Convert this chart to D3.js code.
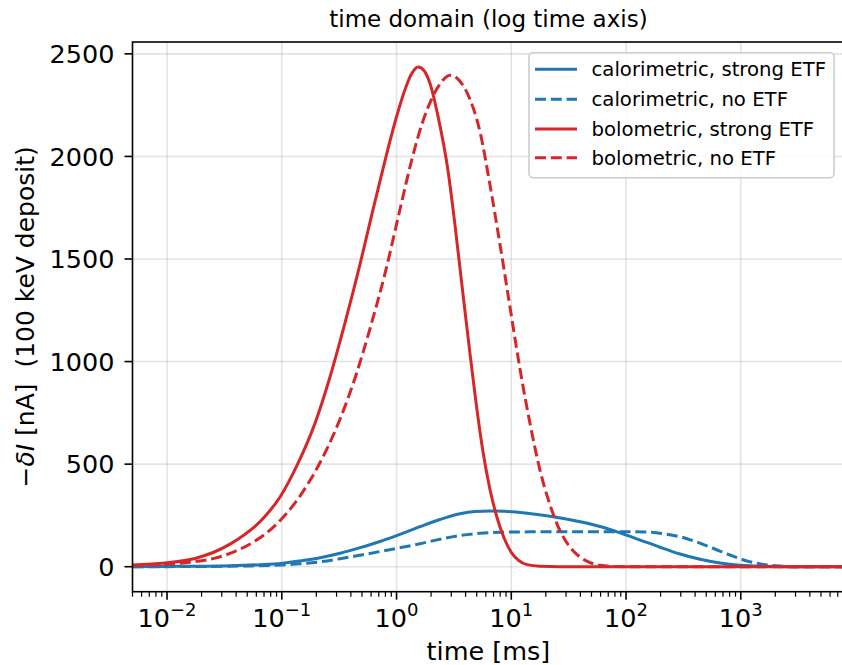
<!DOCTYPE html>
<html>
<head>
<meta charset="utf-8">
<script src="https://cdn.jsdelivr.net/npm/d3@7"></script>
<style>
  body { margin: 0; background: #fff; }
  text { font-family: "DejaVu Sans", sans-serif; fill: #000; }
</style>
</head>
<body>
<script>
// values (time in ms, current in nA)
var calStrongT = [0.005, 0.013, 0.0354, 0.0646, 0.0985, 0.144, 0.216, 0.322, 0.481, 0.718, 1.07, 1.6, 2.39, 3.58, 4.83, 6.53, 8.83, 13.2, 21.8, 36, 59.3, 88.7, 133, 198, 296, 442, 659, 984, 1472, 2685, 8000];
var calStrongI = [0, 2, 5, 10, 16, 28, 44, 66, 93, 123, 158, 195, 230, 258, 269, 272, 270, 262, 246, 224, 196, 165, 130, 95, 62, 36, 18, 7, 2, 0, 0];

var calNoT = [0.005, 0.0194, 0.0529, 0.0985, 0.144, 0.216, 0.322, 0.481, 0.718, 0.99, 1.6, 2.39, 3.58, 5.34, 7.98, 14.6, 39.7, 88.7, 162, 219, 296, 416, 573, 805, 1133, 1563, 2198, 3281, 8000];
var calNoI = [0, 1, 4, 8, 14, 24, 39, 56, 74, 89, 112, 134, 152, 163, 168, 170, 171, 171, 168, 160, 146, 120, 90, 57, 28, 11, 3, 0, 0];

var boloStrongT = [0.005, 0.00961, 0.0175, 0.0354, 0.0687, 0.0966, 0.136, 0.195, 0.263, 0.356, 0.481, 0.611, 0.778, 0.99, 1.21, 1.36, 1.54, 1.74, 1.96, 2.3, 2.81, 3.24, 3.72, 4.28, 4.93, 5.67, 6.53, 7.51, 8.65, 9.95, 11.5, 13.7, 17.8, 26.6, 8000];
var boloStrongI = [8, 18, 40, 110, 235, 340, 495, 700, 925, 1190, 1475, 1720, 1960, 2185, 2340, 2405, 2436, 2418, 2355, 2195, 1930, 1660, 1370, 1080, 800, 560, 375, 240, 140, 72, 32, 10, 2, 0, 0];

var boloNoT = [0.005, 0.00869, 0.0158, 0.0262, 0.0392, 0.0585, 0.0873, 0.13, 0.176, 0.238, 0.322, 0.435, 0.587, 0.794, 1.07, 1.36, 1.67, 2.04, 2.44, 2.93, 3.5, 4.2, 5.34, 6.53, 7.98, 9.75, 11.9, 14.6, 17.8, 21.8, 26.6, 32.5, 39.7, 48.5, 59.3, 80.1, 133, 8000];
var boloNoI = [5, 11, 22, 42, 75, 125, 200, 310, 420, 555, 720, 920, 1160, 1430, 1740, 1985, 2160, 2285, 2360, 2396, 2372, 2300, 2120, 1860, 1570, 1265, 965, 695, 470, 300, 175, 95, 47, 20, 7, 1, 0, 0];

var seriesNames = ["calorimetric, strong ETF", "calorimetric, no ETF", "bolometric, strong ETF", "bolometric, no ETF"];
var yTicks = [0, 500, 1000, 1500, 2000, 2500];
var xTickExp = [-2, -1, 0, 1, 2, 3];

window.onload = () => {
  var W = 842, H = 665;
  var margin = { top: 42, right: -2.4, bottom: 73.3, left: 132.5 };
  var width = W - margin.left - margin.right,
    height = H - margin.top - margin.bottom;

  var x = d3.scaleLog().domain([5e-3, 8e3]).range([0, width]);
  var y = d3.scaleLinear().domain([-121.8, 2557.8]).range([height, 0]);

  var svg = d3.select("body").append("svg")
    .attr("width", W)
    .attr("height", H);

  svg.append("defs").append("clipPath").attr("id", "clip")
    .append("rect").attr("width", width).attr("height", height);

  var g = svg.append("g")
    .attr("transform", "translate(" + margin.left + "," + margin.top + ")");

  // grid
  var grid = g.append("g").attr("stroke", "#b0b0b0").attr("stroke-opacity", 0.35).attr("stroke-width", 1.6);
  xTickExp.forEach(function (e) {
    grid.append("line").attr("x1", x(Math.pow(10, e))).attr("x2", x(Math.pow(10, e)))
      .attr("y1", 0).attr("y2", height);
  });
  yTicks.forEach(function (v) {
    grid.append("line").attr("x1", 0).attr("x2", width)
      .attr("y1", y(v)).attr("y2", y(v));
  });

  var series = [
    { t: calStrongT, v: calStrongI, color: "#1f77b4", dash: null },
    { t: calNoT, v: calNoI, color: "#1f77b4", dash: "11,4.8" },
    { t: boloStrongT, v: boloStrongI, color: "#d62728", dash: null },
    { t: boloNoT, v: boloNoI, color: "#d62728", dash: "11,4.8" }
  ];

  var line = d3.line()
    .x(function (d) { return x(d[0]); })
    .y(function (d) { return y(d[1]); })
    .curve(d3.curveMonotoneX);

  var plot = g.append("g").attr("clip-path", "url(#clip)");
  series.forEach(function (s) {
    plot.append("path")
      .datum(d3.zip(s.t, s.v))
      .attr("fill", "none")
      .attr("stroke", s.color)
      .attr("stroke-width", 3)
      .attr("stroke-dasharray", s.dash)
      .attr("d", line);
  });

  // x axis with minor ticks
  var minor = [];
  for (var e = -3; e <= 3; e++) {
    for (var k = 2; k <= 9; k++) {
      var t = k * Math.pow(10, e);
      if (t >= 5e-3 && t <= 8e3) minor.push(t);
    }
  }
  var xAxis = g.append("g").attr("transform", "translate(0," + height + ")");
  xAxis.selectAll(".minor").data(minor).enter().append("line")
    .attr("x1", function (d) { return x(d); }).attr("x2", function (d) { return x(d); })
    .attr("y1", 0).attr("y2", 5).attr("stroke", "#000").attr("stroke-width", 1.2);
  xTickExp.forEach(function (e) {
    var px = x(Math.pow(10, e));
    xAxis.append("line").attr("x1", px).attr("x2", px).attr("y1", 0).attr("y2", 8)
      .attr("stroke", "#000").attr("stroke-width", 1.6);
    var tx = xAxis.append("text").attr("x", px).attr("y", 35)
      .attr("text-anchor", "middle").style("font-size", "25.5px");
    tx.append("tspan").text("10");
    tx.append("tspan").attr("dy", -11).style("font-size", "18px")
      .text(e < 0 ? "\u2212" + (-e) : String(e));
  });

  // y axis
  yTicks.forEach(function (v) {
    g.append("line").attr("x1", -8).attr("x2", 0).attr("y1", y(v)).attr("y2", y(v))
      .attr("stroke", "#000").attr("stroke-width", 1.6);
    g.append("text").attr("x", -18).attr("y", y(v) + 9.2)
      .attr("text-anchor", "end").style("font-size", "25.5px").text(v);
  });

  // spines
  g.append("rect").attr("width", width).attr("height", height)
    .attr("fill", "none").attr("stroke", "#000").attr("stroke-width", 1.6);

  // labels
  svg.append("text").attr("x", margin.left + width / 2).attr("y", 27)
    .attr("text-anchor", "middle").style("font-size", "23px")
    .text("time domain (log time axis)");
  svg.append("text").attr("x", margin.left + width / 2).attr("y", 660)
    .attr("text-anchor", "middle").style("font-size", "25.5px")
    .text("time [ms]");
  var yl = svg.append("text")
    .attr("transform", "translate(34," + (margin.top + height / 2) + ") rotate(-90)")
    .attr("text-anchor", "middle").style("font-size", "25px").style("white-space", "pre");
  yl.append("tspan").text("\u2212");
  yl.append("tspan").style("font-style", "italic").text("\u03b4I");
  yl.append("tspan").text(" [nA]  (100 keV deposit)");

  // legend
  var lg = svg.append("g");
  lg.append("rect").attr("x", 529).attr("y", 52.7).attr("width", 305).attr("height", 125)
    .attr("rx", 4).attr("fill", "#fff").attr("fill-opacity", 0.8)
    .attr("stroke", "#cccccc").attr("stroke-width", 1.6);
  var rows = [69.3, 99.3, 129, 157.7];
  series.forEach(function (s, i) {
    lg.append("line").attr("x1", 535).attr("x2", 577).attr("y1", rows[i]).attr("y2", rows[i])
      .attr("stroke", s.color).attr("stroke-width", 3).attr("stroke-dasharray", s.dash);
    lg.append("text").attr("x", 591.5).attr("y", rows[i] + 7)
      .style("font-size", "19.7px").text(seriesNames[i]);
  });
};
</script>
</body>
</html>
